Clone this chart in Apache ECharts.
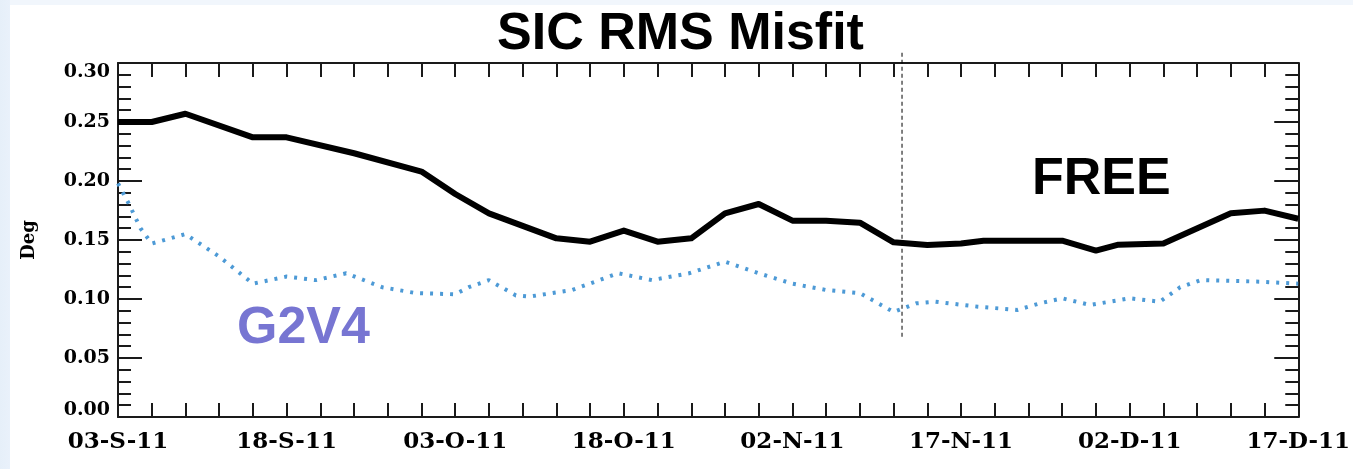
<!DOCTYPE html>
<html>
<head>
<meta charset="utf-8">
<script src="https://cdn.jsdelivr.net/npm/echarts@6/dist/echarts.min.js"></script>
<style>
  html, body { margin: 0; padding: 0; }
  body {
    width: 1353px; height: 469px; overflow: hidden;
    background:
      linear-gradient(to right, #e6eff9 0, #e9f1fb 10px, rgba(255,255,255,0) 10px),
      linear-gradient(to bottom, #f1f6fc 0, #f1f6fc 5px, #ffffff 5px);
  }
  #chart { width: 1353px; height: 469px; }
</style>
</head>
<body>
<div id="chart"></div>
<script>
// Day offsets counted from 03-S-11 (03 Sep 2011)
const tickLabels = ['03-S-11', '18-S-11', '03-O-11', '18-O-11', '02-N-11', '17-N-11', '02-D-11', '17-D-11'];

// FREE run: RMS misfit (deg)
const freeDays   = [0, 3, 6, 12, 15, 21, 27, 30, 33, 39, 42, 45, 48, 51, 54, 57, 60, 63, 66, 69, 72, 75, 77, 84, 87, 89, 93, 99, 102, 105];
const freeValues = [0.250, 0.250, 0.257, 0.237, 0.237, 0.2235, 0.208, 0.189, 0.1726, 0.1514, 0.1486, 0.158, 0.1486, 0.1514, 0.1726, 0.1805, 0.1664, 0.1664, 0.1647, 0.148, 0.1458, 0.147, 0.1494, 0.1494, 0.141, 0.146, 0.147, 0.1726, 0.1749, 0.168];

// G2V4 run: RMS misfit (deg)
const g2v4Days   = [0, 1, 2, 3, 6, 9, 12, 15, 17.6, 20.3, 23.5, 26.5, 30, 31.2, 33, 35.4, 36.6, 40.4, 44.5, 47.5, 50.8, 54, 57, 60, 63, 66, 69, 71, 72.7, 76.5, 80, 82, 84, 86.5, 90, 92.7, 94.5, 96.3, 101.6, 105];
const g2v4Values = [0.198, 0.180, 0.160, 0.147, 0.155, 0.136, 0.113, 0.119, 0.116, 0.1218, 0.110, 0.105, 0.104, 0.110, 0.116, 0.103, 0.102, 0.1076, 0.1218, 0.116, 0.1218, 0.1316, 0.1218, 0.113, 0.1076, 0.105, 0.089, 0.0963, 0.0977, 0.0935, 0.0907, 0.0963, 0.1006, 0.0949, 0.1006, 0.0977, 0.110, 0.116, 0.1147, 0.113];

// Start of the free forecast period (dashed marker)
const splitDays   = [69.75, 69.75];
const splitValues = [0.068, 0.31];

const zip = (xs, ys) => xs.map((x, i) => [x, ys[i]]);

const axisColor = '#1a1a1a';
const serif = "'DejaVu Serif', serif";
const sans = "'Liberation Sans', Arial, sans-serif";
const labelFont = { fontFamily: serif, fontWeight: 'bold', color: '#000' };

function xAxisDef(pos, showLabels) {
  return {
    type: 'value', position: pos, min: 0, max: 105, interval: 15,
    axisLine: { show: true, onZero: false, lineStyle: { color: axisColor, width: 2 } },
    axisTick: { show: true, inside: true, length: 14, lineStyle: { color: axisColor, width: 2 } },
    minorTick: { show: true, splitNumber: 5, length: 14, lineStyle: { color: axisColor, width: 2 } },
    splitLine: { show: false },
    axisLabel: showLabels ? Object.assign({
      show: true, fontSize: 23, margin: 14,
      formatter: v => tickLabels[Math.round(v / 15)] || ''
    }, labelFont) : { show: false }
  };
}

function yAxisDef(pos, showLabels) {
  const ax = {
    type: 'value', position: pos, min: 0, max: 0.3, interval: 0.05,
    axisLine: { show: true, onZero: false, lineStyle: { color: axisColor, width: 2 } },
    axisTick: { show: true, inside: true, length: 24, lineStyle: { color: axisColor, width: 2 } },
    minorTick: { show: true, splitNumber: 5, length: 13, lineStyle: { color: axisColor, width: 2 } },
    splitLine: { show: false },
    axisLabel: showLabels ? Object.assign({
      show: true, fontSize: 19, margin: 8,
      // end labels sit inside the frame: top one nudged down, bottom one up
      formatter: v => {
        const s = v.toFixed(2);
        if (v >= 0.299) return '{hi|' + s + '}';
        if (v <= 0.001) return '{lo|' + s + '}';
        return s;
      },
      rich: {
        hi: { fontFamily: serif, fontWeight: 'bold', fontSize: 19, color: '#000', padding: [18, 0, 0, 0] },
        lo: { fontFamily: serif, fontWeight: 'bold', fontSize: 19, color: '#000', padding: [0, 0, 14, 0] }
      }
    }, labelFont) : { show: false }
  };
  if (showLabels) {
    ax.name = 'Deg';
    ax.nameLocation = 'middle';
    ax.nameRotate = 90;
    ax.nameGap = 80;
    ax.nameTextStyle = { fontFamily: serif, fontWeight: 'bold', fontSize: 18, color: '#000' };
  }
  return ax;
}

const chart = echarts.init(document.getElementById('chart'), null, { renderer: 'canvas' });

chart.setOption({
  backgroundColor: 'transparent',
  animation: false,
  grid: { left: 118, right: 52, top: 63, bottom: 52, containLabel: false },
  xAxis: [xAxisDef('bottom', true), xAxisDef('top', false)],
  yAxis: [yAxisDef('left', true), yAxisDef('right', false)],
  graphic: [
    { type: 'text', left: 497, top: 9,
      style: { text: 'SIC RMS Misfit', fontFamily: sans, fontWeight: 'bold', fontSize: 52, fill: '#000' } },
    { type: 'text', left: 1032, top: 154,
      style: { text: 'FREE', fontFamily: sans, fontWeight: 'bold', fontSize: 52, fill: '#000' } },
    { type: 'text', left: 237, top: 303,
      style: { text: 'G2V4', fontFamily: sans, fontWeight: 'bold', fontSize: 52, fill: '#7775d2' } }
  ],
  series: [
    {
      name: 'G2V4', type: 'line', xAxisIndex: 0, yAxisIndex: 0,
      data: zip(g2v4Days, g2v4Values),
      showSymbol: false, smooth: false,
      lineStyle: { color: '#4d9ad6', width: 4, type: [3, 7] }
    },
    {
      name: 'FREE', type: 'line', xAxisIndex: 0, yAxisIndex: 0,
      data: zip(freeDays, freeValues),
      showSymbol: false, smooth: false,
      lineStyle: { color: '#000', width: 6, join: 'round' }
    },
    {
      name: 'split', type: 'line', xAxisIndex: 0, yAxisIndex: 0,
      data: zip(splitDays, splitValues),
      showSymbol: false, clip: false, silent: true,
      lineStyle: { color: '#000', width: 1, type: [4, 3] }
    }
  ]
});
</script>
</body>
</html>
